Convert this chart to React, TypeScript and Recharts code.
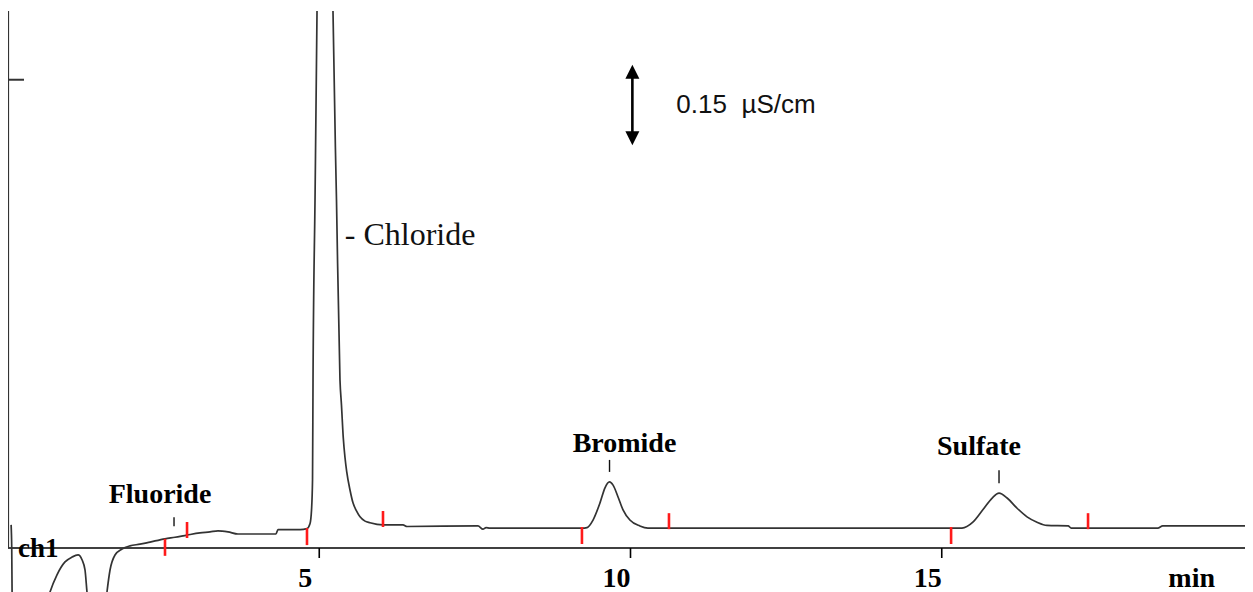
import React from "react";
import {
  ComposedChart,
  Line,
  ReferenceLine,
  Scatter,
  XAxis,
  YAxis,
} from "recharts";

// chromatogram ch1 — retention time in min, signal in µS/cm above the axis
const TIME = [
  0.05, 0.06, 0.075, 0.35, 0.675, 0.787, 0.916, 1.028, 1.125, 1.189, 1.237, 1.269,
  1.317, 1.43, 1.542, 1.59, 1.639, 1.719, 1.831, 1.96, 2.12, 2.281, 2.522, 2.683,
  2.876, 3.084, 3.245, 3.373, 3.534, 3.695, 4.305, 4.337, 4.691, 4.803, 4.851, 4.876,
  4.892, 4.9, 4.932, 4.964, 5.092, 5.221, 5.277, 5.333, 5.357, 5.386, 5.414, 5.441,
  5.494, 5.542, 5.598, 5.655, 5.735, 5.815, 6.024, 6.345, 6.41, 7.55, 7.63, 7.68,
  7.74, 9.22, 9.301, 9.398, 9.51, 9.59, 9.663, 9.72, 9.8, 9.88, 9.99, 10.15,
  10.28, 15.13, 15.325, 15.5, 15.66, 15.81, 15.92, 16.05, 16.21, 16.37, 16.53, 16.69,
  17.03, 17.08, 18.47, 18.55, 20.0,
];
const SIGNAL = [
  0.043, 0.0, -0.2, -0.26, -0.082, -0.05, -0.026, -0.017, -0.013, -0.022, -0.041, -0.082,
  -0.134, -0.17, -0.134, -0.082, -0.041, -0.013, -0.002, 0.004, 0.007, 0.011, 0.017, 0.02,
  0.024, 0.028, 0.03, 0.032, 0.03, 0.026, 0.026, 0.034, 0.034, 0.036, 0.045, 0.071,
  0.127, 0.313, 0.648, 0.998, 3.1, 0.998, 0.648, 0.313, 0.266, 0.205, 0.168, 0.142,
  0.108, 0.084, 0.069, 0.058, 0.05, 0.047, 0.043, 0.043, 0.04, 0.041, 0.035, 0.038,
  0.037, 0.037, 0.038, 0.052, 0.084, 0.112, 0.123, 0.117, 0.095, 0.071, 0.052, 0.041,
  0.037, 0.037, 0.037, 0.048, 0.071, 0.093, 0.102, 0.093, 0.074, 0.058, 0.048, 0.042,
  0.041, 0.037, 0.037, 0.041, 0.041,
];

// integration marks (peak start / end)
const MARK_TIME = [2.522, 2.876, 4.803, 6.024, 9.22, 10.618, 15.15, 17.35];
const MARK_LEVEL = [0.017, 0.0186, 0.037, 0.039, 0.039, 0.035, 0.039, 0.035];
const MARK_SIDE = ["start", "end", "start", "end", "start", "end", "start", "end"];

// labelled peaks (apex)
const PEAK_NAMES = ["Fluoride", "Bromide", "Sulfate"];
const PEAK_TIME = [2.667, 9.663, 15.92];
const PEAK_LEVEL = [0.02, 0.123, 0.102];

const CHLORIDE_TEXT = "- Chloride";
const CHLORIDE_AT = { t: 5.41, v: 0.564 };

const X_TICKS = [5, 10, 15];
const Y_TICKS = [0.872];

const SCALE_BAR_TIME = 10.03;
const SCALE_BAR_FROM = 0.75;
const SCALE_BAR_SPAN = 0.15;
const SCALE_BAR_TEXT = "0.15  µS/cm";

const W = 1245;
const H = 584;
const SERIF = "'Liberation Serif', 'Times New Roman', serif";
const SANS = "'Liberation Sans', Arial, sans-serif";

const labelStyle: Record<string, { dx: number; dy: number; gap: number; len: number }> = {
  Fluoride: { dx: -14, dy: -34, gap: 11, len: 9 },
  Bromide: { dx: 15, dy: -30, gap: 10, len: 12 },
  Sulfate: { dx: -20, dy: -38, gap: 10, len: 13 },
};

const trace = TIME.map((t, i) => ({ t, v: SIGNAL[i] }));
const marks = MARK_TIME.map((t, i) => ({ t, v: MARK_LEVEL[i], side: MARK_SIDE[i] }));
const peaks = PEAK_NAMES.map((name, i) => ({ name, t: PEAK_TIME[i], v: PEAK_LEVEL[i] }));

function MarkShape(p: any) {
  const { cx, cy, payload } = p;
  const y2 = payload.side === "start" ? cy + 17 : cy - 16;
  return <line x1={cx} x2={cx} y1={cy} y2={y2} stroke="#ff1a1a" strokeWidth={2.6} />;
}

function PeakShape(p: any) {
  const { cx, cy, payload } = p;
  const s = labelStyle[payload.name];
  return (
    <g>
      <line
        x1={cx}
        x2={cx}
        y1={cy - s.gap}
        y2={cy - s.gap - s.len}
        stroke="#111"
        strokeWidth={1.4}
      />
      <text
        x={cx + s.dx}
        y={cy + s.dy}
        textAnchor="middle"
        fontFamily={SERIF}
        fontWeight="bold"
        fontSize={28}
        fill="#000"
      >
        {payload.name}
      </text>
    </g>
  );
}

function ChlorideShape(p: any) {
  return (
    <text x={p.cx} y={p.cy} fontFamily={SERIF} fontSize={32} fill="#111">
      {CHLORIDE_TEXT}
    </text>
  );
}

function ScaleBar(p: any) {
  const x = p.x1;
  const top = Math.min(p.y1, p.y2);
  const bottom = Math.max(p.y1, p.y2);
  return (
    <g>
      <line x1={x} x2={x} y1={top + 6} y2={bottom - 6} stroke="#000" strokeWidth={2.6} />
      <polygon points={`${x},${top} ${x - 7},${top + 14} ${x + 7},${top + 14}`} fill="#000" />
      <polygon
        points={`${x},${bottom} ${x - 7},${bottom - 14} ${x + 7},${bottom - 14}`}
        fill="#000"
      />
      <text
        x={x + 44}
        y={(top + bottom) / 2 + 8}
        fontFamily={SANS}
        fontSize={26}
        fill="#111"
        style={{ whiteSpace: "pre" }}
      >
        {SCALE_BAR_TEXT}
      </text>
    </g>
  );
}

function TimeTick(p: any) {
  return (
    <text
      x={p.x - 14}
      y={p.y}
      dy="0.71em"
      textAnchor="middle"
      fontFamily={SERIF}
      fontWeight="bold"
      fontSize={28}
      fill="#000"
    >
      {p.payload.value}
    </text>
  );
}

export default function App() {
  return (
    <div style={{ position: "relative", width: W, height: H, overflow: "hidden" }}>
      {/* axes layer */}
      <div style={{ position: "absolute", left: 0, top: 0 }}>
        <ComposedChart width={W} height={H} margin={{ top: 3, right: 0, bottom: 0, left: 0 }}>
          <XAxis
            type="number"
            dataKey="t"
            domain={[0, 20]}
            allowDataOverflow
            ticks={X_TICKS}
            height={44}
            tickSize={10}
            tickMargin={9}
            axisLine={{ stroke: "#000", strokeWidth: 1.6 }}
            tickLine={{ stroke: "#000", strokeWidth: 1.6 }}
            tick={TimeTick}
            label={{
              content: (lp: any) => (
                <text
                  x={lp.viewBox.x + lp.viewBox.width - 38}
                  y={lp.viewBox.y + 39}
                  textAnchor="end"
                  fontFamily={SERIF}
                  fontWeight="bold"
                  fontSize={28}
                  fill="#000"
                >
                  min
                </text>
              ),
            }}
          />
          <YAxis
            type="number"
            dataKey="v"
            domain={[0, 1]}
            allowDataOverflow
            ticks={Y_TICKS}
            width={1}
            mirror
            tickSize={16}
            tickFormatter={() => ""}
            axisLine={{ stroke: "#333", strokeWidth: 2.2 }}
            tickLine={{ stroke: "#333", strokeWidth: 2 }}
            label={{
              content: (lp: any) => (
                <text
                  x={lp.viewBox.x + 10}
                  y={lp.viewBox.y + lp.viewBox.height + 9}
                  fontFamily={SERIF}
                  fontWeight="bold"
                  fontSize={27}
                  fill="#000"
                >
                  ch1
                </text>
              ),
            }}
          />
        </ComposedChart>
      </div>
      {/* trace layer */}
      <div style={{ position: "absolute", left: 0, top: 0 }}>
        <ComposedChart width={W} height={H} margin={{ top: 3, right: 0, bottom: 0, left: 0 }}>
          <XAxis type="number" dataKey="t" domain={[0, 20]} allowDataOverflow hide />
          <YAxis type="number" dataKey="v" domain={[-0.082, 1]} allowDataOverflow hide />
          <Line
            data={trace}
            dataKey="v"
            type="monotone"
            stroke="#333"
            strokeWidth={1.7}
            dot={false}
            isAnimationActive={false}
          />
          <Scatter data={marks} dataKey="v" shape={MarkShape} isAnimationActive={false} />
          <Scatter data={peaks} dataKey="v" shape={PeakShape} isAnimationActive={false} />
          <Scatter
            data={[CHLORIDE_AT]}
            dataKey="v"
            shape={ChlorideShape}
            isAnimationActive={false}
          />
          <ReferenceLine
            segment={[
              { x: SCALE_BAR_TIME, y: SCALE_BAR_FROM },
              { x: SCALE_BAR_TIME, y: SCALE_BAR_FROM + SCALE_BAR_SPAN },
            ]}
            shape={ScaleBar}
          />
        </ComposedChart>
      </div>
    </div>
  );
}
